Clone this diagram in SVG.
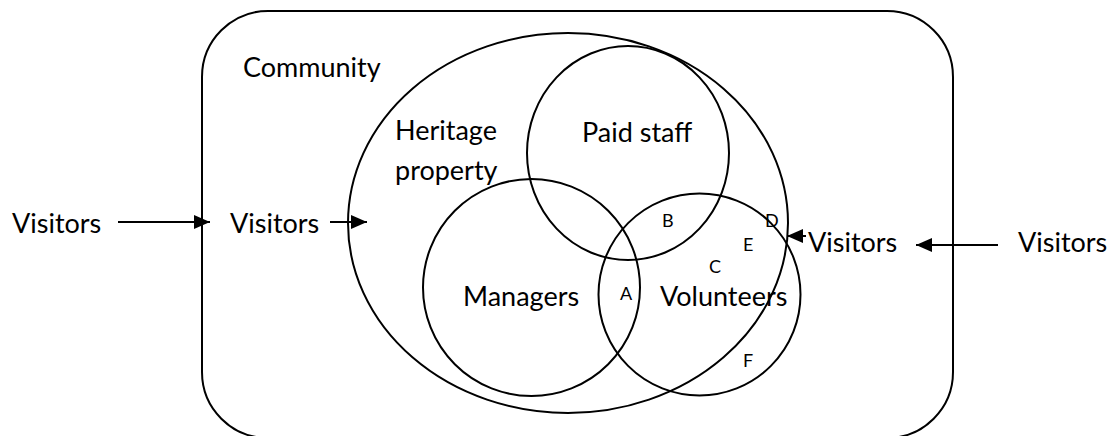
<svg xmlns="http://www.w3.org/2000/svg" width="1117" height="436" viewBox="0 0 1117 436">
  <style>
    .shape { fill: none; stroke: #000; stroke-width: 2; }
    .lbl { font-family: Lato, "Liberation Sans", sans-serif; font-size: 27px; fill: #000; }
    .sm { font-family: Lato, "Liberation Sans", sans-serif; font-size: 18px; fill: #000; }
    .conn { stroke: #000; stroke-width: 2; fill: none; }
  </style>
  <defs>
    <marker id="arrow" viewBox="0 0 16 14" refX="16" refY="7" markerWidth="16" markerHeight="14" markerUnits="userSpaceOnUse" orient="auto">
      <path d="M0,0 L16,7 L0,14 Z" fill="#000"/>
    </marker>
  </defs>
  <rect x="0" y="0" width="1117" height="436" fill="#fff"/>

  <g id="community">
    <rect class="shape" x="202" y="11" width="751" height="427" rx="66" ry="66"/>
    <text class="lbl" x="243" y="77">Community</text>
  </g>

  <g id="heritage-property">
    <ellipse class="shape" cx="568" cy="223" rx="220" ry="190"/>
    <text class="lbl" x="395" y="140">Heritage</text>
    <text class="lbl" x="395" y="180">property</text>
  </g>

  <g id="paid-staff">
    <ellipse class="shape" cx="628" cy="153" rx="101" ry="107"/>
    <text class="lbl" x="582" y="142">Paid staff</text>
  </g>

  <g id="managers">
    <circle class="shape" cx="531.5" cy="287.5" r="108.5"/>
    <text class="lbl" x="463" y="306">Managers</text>
  </g>

  <g id="volunteers">
    <circle class="shape" cx="699.5" cy="294.5" r="101"/>
    <text class="lbl" x="660" y="306">Volunteers</text>
  </g>

  <g id="region-labels">
    <text class="sm" x="620" y="300">A</text>
    <text class="sm" x="662" y="227">B</text>
    <text class="sm" x="709" y="273">C</text>
    <text class="sm" x="765" y="227">D</text>
    <text class="sm" x="743" y="251">E</text>
    <text class="sm" x="743" y="367">F</text>
  </g>

  <g id="visitors-outer-left">
    <text class="lbl" x="12" y="233">Visitors</text>
  </g>
  <g id="visitors-inner-left">
    <text class="lbl" x="230" y="233">Visitors</text>
  </g>
  <g id="visitors-inner-right">
    <text class="lbl" x="808" y="252">Visitors</text>
  </g>
  <g id="visitors-outer-right">
    <text class="lbl" x="1018" y="252">Visitors</text>
  </g>

  <g id="connectors">
    <line class="conn" x1="118" y1="222" x2="210" y2="222" marker-end="url(#arrow)"/>
    <line class="conn" x1="330" y1="222" x2="367" y2="222" marker-end="url(#arrow)"/>
    <line class="conn" x1="806" y1="236" x2="787" y2="236" marker-end="url(#arrow)"/>
    <line class="conn" x1="998" y1="245" x2="916" y2="245" marker-end="url(#arrow)"/>
  </g>
</svg>
